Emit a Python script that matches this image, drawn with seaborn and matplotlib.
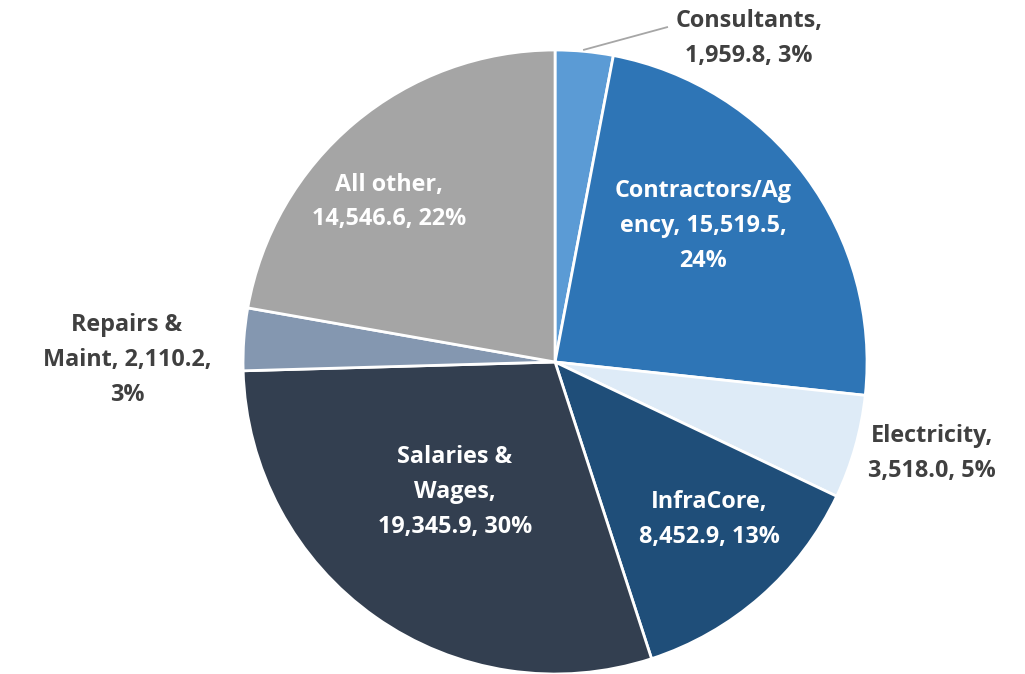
import matplotlib
matplotlib.use("Agg")
import matplotlib.pyplot as plt
import seaborn as sns
import numpy as np

# Expense breakdown
categories = ["Consultants", "Contractors/Agency", "Electricity", "InfraCore",
              "Salaries & Wages", "Repairs & Maint", "All other"]
values = [1959.8, 15519.5, 3518.0, 8452.9, 19345.9, 2110.2, 14546.6]
label_texts = [
    "Consultants,\n1,959.8, 3%",
    "Contractors/Ag\nency, 15,519.5,\n24%",
    "Electricity,\n3,518.0, 5%",
    "InfraCore,\n8,452.9, 13%",
    "Salaries &\nWages,\n19,345.9, 30%",
    "Repairs &\nMaint, 2,110.2,\n3%",
    "All other,\n14,546.6, 22%",
]

colors = ["#5B9BD5", "#2E75B6", "#DEEBF7", "#1F4E79", "#333F50", "#8497B0", "#A5A5A5"]
inside = [False, True, False, True, True, False, True]

# label anchor positions (units of pie radius)
label_pos = [(0.622, 1.038), (0.474, 0.436), (1.208, -0.292), (0.494, -0.506),
             (-0.321, -0.417), (-1.372, 0.006), (-0.532, 0.513)]

sns.set_theme(style="white")
plt.rcParams["font.family"] = ["Open Sans", "DejaVu Sans"]

fig = plt.figure(figsize=(10.25, 6.74), dpi=100)
fig.patch.set_facecolor("white")
ax = fig.add_axes([0.2371, 0.0, 0.6088, 0.9258])

wedges, _ = ax.pie(values, colors=colors, startangle=90, counterclock=False,
                   radius=1.0,
                   wedgeprops=dict(edgecolor="white", linewidth=2.0))
ax.set_xlim(-1, 1)
ax.set_ylim(-1, 1)
ax.set_aspect("equal")
ax.axis("off")

for txt, (x, y), ins in zip(label_texts, label_pos, inside):
    ax.text(x, y, txt, ha="center", va="center", fontsize=16.8,
            fontweight="bold", color="white" if ins else "#404040",
            linespacing=1.6, clip_on=False)

# leader line for the small slice
ax.plot([0.09, 0.362], [1.0, 1.074], color="#A6A6A6", lw=1.3,
        clip_on=False, solid_capstyle="butt")

fig.savefig("out.png", dpi=100, facecolor="white")
